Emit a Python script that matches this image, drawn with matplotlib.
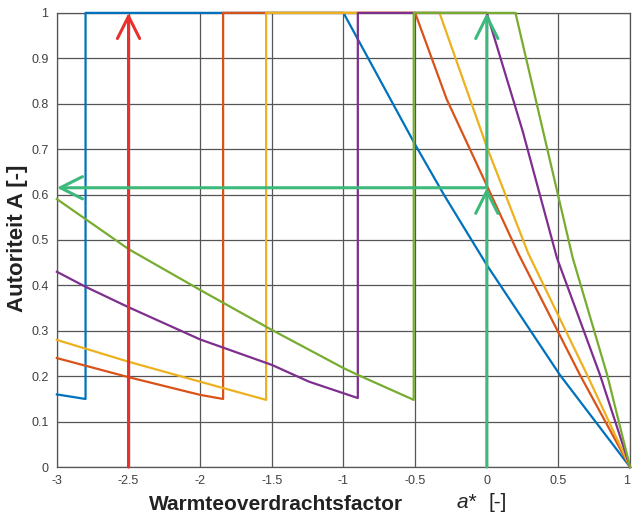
import matplotlib.pyplot as plt

plt.rcParams['font.family'] = ['Liberation Sans', 'DejaVu Sans']

# kleuren (MATLAB standaard)
c_blue = '#0072BD'
c_red = '#D95319'
c_yellow = '#EDB120'
c_purple = '#7E2F8E'
c_green = '#77AC30'

x_blue = [-3, -2.8, -2.8, -1.0, -0.5, -0.3, 0, 0.51, 1]
y_blue = [0.16, 0.15, 1.0, 1.0, 0.71, 0.60, 0.445, 0.203, 0]

x_red = [-3, -2.5, -2, -1.84, -1.84, -0.5, -0.28, 0, 0.22, 0.65, 1]
y_red = [0.24, 0.198, 0.159, 0.15, 1.0, 1.0, 0.81, 0.62, 0.47, 0.203, 0]

x_yellow = [-3, -2.5, -2, -1.54, -1.54, -0.33, 0, 0.29, 0.70, 1]
y_yellow = [0.28, 0.232, 0.188, 0.148, 1.0, 1.0, 0.705, 0.47, 0.203, 0]

x_purple = [-3, -2.8, -2.5, -2, -1.5, -1.24, -0.9, -0.9, 0, 0.25, 0.49, 0.79, 1]
y_purple = [0.43, 0.397, 0.352, 0.281, 0.225, 0.188, 0.152, 1.0, 1.0, 0.74, 0.46, 0.203, 0]

x_green = [-3, -2.5, -2, -1.5, -1, -0.9, -0.51, -0.51, 0.2, 0.4, 0.6, 0.84, 1]
y_green = [0.59, 0.48, 0.39, 0.302, 0.218, 0.203, 0.148, 1.0, 1.0, 0.73, 0.46, 0.203, 0]

# pijlen
a_red_x = -2.5
a_green_x = 0
a_green_y = 0.615

x_ticks = [-3, -2.5, -2, -1.5, -1, -0.5, 0, 0.5, 1]
x_ticklabels = ['-3', '-2.5', '-2', '-1.5', '-1', '-0.5', '0', '0.5', '1']
y_ticks = [0, 0.1, 0.2, 0.3, 0.4, 0.5, 0.6, 0.7, 0.8, 0.9, 1]
y_ticklabels = ['0', '0.1', '0.2', '0.3', '0.4', '0.5', '0.6', '0.7', '0.8', '0.9', '1']

fig = plt.figure(figsize=(6.32, 5.15), dpi=100)
ax = fig.add_axes([0.090, 0.093, 0.907, 0.882])

lw = 1.6
for xs, ys, c in [(x_blue, y_blue, c_blue), (x_red, y_red, c_red),
                  (x_yellow, y_yellow, c_yellow), (x_purple, y_purple, c_purple),
                  (x_green, y_green, c_green)]:
    ax.plot(xs, ys, color=c, lw=lw, clip_on=False, zorder=3)

# pijlen
arrow_red = dict(arrowstyle='->, head_length=0.8, head_width=0.4', color='#E8302C',
                 lw=2.2, shrinkA=0, shrinkB=0, mutation_scale=20)
arrow_green = dict(arrowstyle='->, head_length=0.8, head_width=0.4', color='#3DBA7B',
                   lw=2.2, shrinkA=0, shrinkB=0, mutation_scale=20)
ax.annotate('', xy=(a_red_x, 1), xytext=(a_red_x, 0), arrowprops=arrow_red,
            annotation_clip=False, zorder=4)
ax.annotate('', xy=(a_green_x, a_green_y), xytext=(a_green_x, 0), arrowprops=arrow_green,
            annotation_clip=False, zorder=4)
ax.annotate('', xy=(a_green_x, 1), xytext=(a_green_x, a_green_y), arrowprops=arrow_green,
            annotation_clip=False, zorder=4)
ax.annotate('', xy=(-3, a_green_y), xytext=(a_green_x, a_green_y), arrowprops=arrow_green,
            annotation_clip=False, zorder=4)

ax.set_xlim(-3, 1)
ax.set_ylim(0, 1)
ax.set_xticks(x_ticks)
ax.set_xticklabels(x_ticklabels)
ax.set_yticks(y_ticks)
ax.set_yticklabels(y_ticklabels)
ax.tick_params(length=0, labelsize=9, labelcolor='#404040', pad=6)
ax.get_xticklabels()[-1].set_horizontalalignment('right')
ax.grid(True, color='#555555', lw=0.9)
ax.set_axisbelow(True)
for s in ax.spines.values():
    s.set_color('#555555')
    s.set_linewidth(0.9)

# aslabels
fig.text(276 / 632, 1 - 504 / 515, 'Warmteoverdrachtsfactor', ha='center', va='center',
         fontsize=15, fontweight='bold', color='#222222')
fig.text(466 / 632, 1 - 502 / 515, 'a*', ha='center', va='center',
         fontsize=15, fontstyle='italic', color='#222222')
fig.text(498 / 632, 1 - 502 / 515, '[-]', ha='center', va='center',
         fontsize=15, color='#222222')
fig.text(18 / 632, 1 - 238 / 515, 'Autoriteit A [-]', ha='center', va='center',
         rotation=90, fontsize=16, fontweight='bold', color='#222222')

fig.savefig('out.png', dpi=100)
